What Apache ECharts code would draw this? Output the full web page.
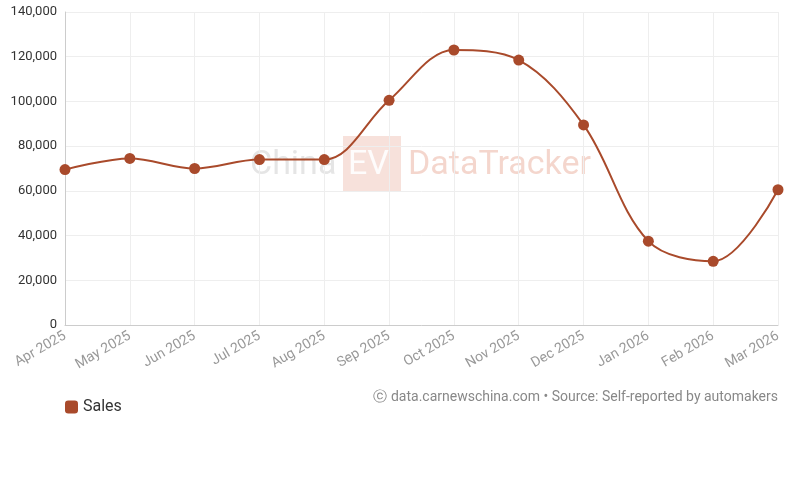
<!DOCTYPE html>
<html><head><meta charset="utf-8">
<script src="https://cdn.jsdelivr.net/npm/echarts@6/dist/echarts.min.js"></script>
<style>body{margin:0}#main{width:800px;height:481px}</style>
</head><body><div id="main"></div>
<script>
var months = ['Apr 2025','May 2025','Jun 2025','Jul 2025','Aug 2025','Sep 2025','Oct 2025','Nov 2025','Dec 2025','Jan 2026','Feb 2026','Mar 2026'];
var sales = [69500, 74500, 70000, 74000, 74000, 100500, 123000, 118500, 89500, 37500, 28500, 60500];
var color = '#a94a2b';
var chart = echarts.init(document.getElementById('main'));
chart.setOption({
  textStyle: {fontFamily: 'Roboto'},
  grid: {left: 65, right: 22, top: 12, bottom: 156},
  legend: {
    left: 60, top: 394, icon: 'roundRect', itemWidth: 13, itemHeight: 13,
    textStyle: {fontSize: 16, color: '#333'}, data: ['Sales']
  },
  graphic: [
    {type: 'text', left: 250, top: 148, style: {text: 'China', fontSize: 34, fill: 'rgba(150,150,150,0.25)', fontFamily: 'Roboto'}},
    {type: 'rect', left: 343, top: 136, shape: {width: 58, height: 56}, style: {fill: 'rgba(220,120,90,0.22)'}},
    {type: 'text', left: 348, top: 148, style: {text: 'EV', fontSize: 34, fill: 'rgba(255,255,255,0.9)', fontFamily: 'Roboto'}},
    {type: 'text', left: 408, top: 148, style: {text: 'DataTracker', fontSize: 34, fill: 'rgba(220,120,90,0.3)', fontFamily: 'Roboto'}},
    {type: 'text', right: 22, top: 390, style: {text: '\u24D2 data.carnewschina.com \u2022 Source: Self-reported by automakers', fontSize: 14, fill: '#888', fontFamily: 'Roboto'}}
  ],
  xAxis: {
    type: 'category', data: months, boundaryGap: false,
    axisLine: {lineStyle: {color: '#ccc'}}, axisTick: {show: false},
    splitLine: {show: true, lineStyle: {color: '#eee'}},
    axisLabel: {rotate: 30, color: '#999', fontSize: 14, interval: 0, margin: 10}
  },
  yAxis: {
    type: 'value', min: 0, max: 140000, interval: 20000,
    axisLine: {show: true, lineStyle: {color: '#ccc'}},
    splitLine: {lineStyle: {color: '#eee'}},
    axisLabel: {color: '#333', fontSize: 13, formatter: function(v){return v.toLocaleString('en-US');}}
  },
  series: [{
    name: 'Sales', type: 'line', data: sales, smooth: 0.35,
    symbol: 'circle', symbolSize: 11, itemStyle: {color: color},
    lineStyle: {color: color, width: 2}
  }]
});
</script></body></html>
